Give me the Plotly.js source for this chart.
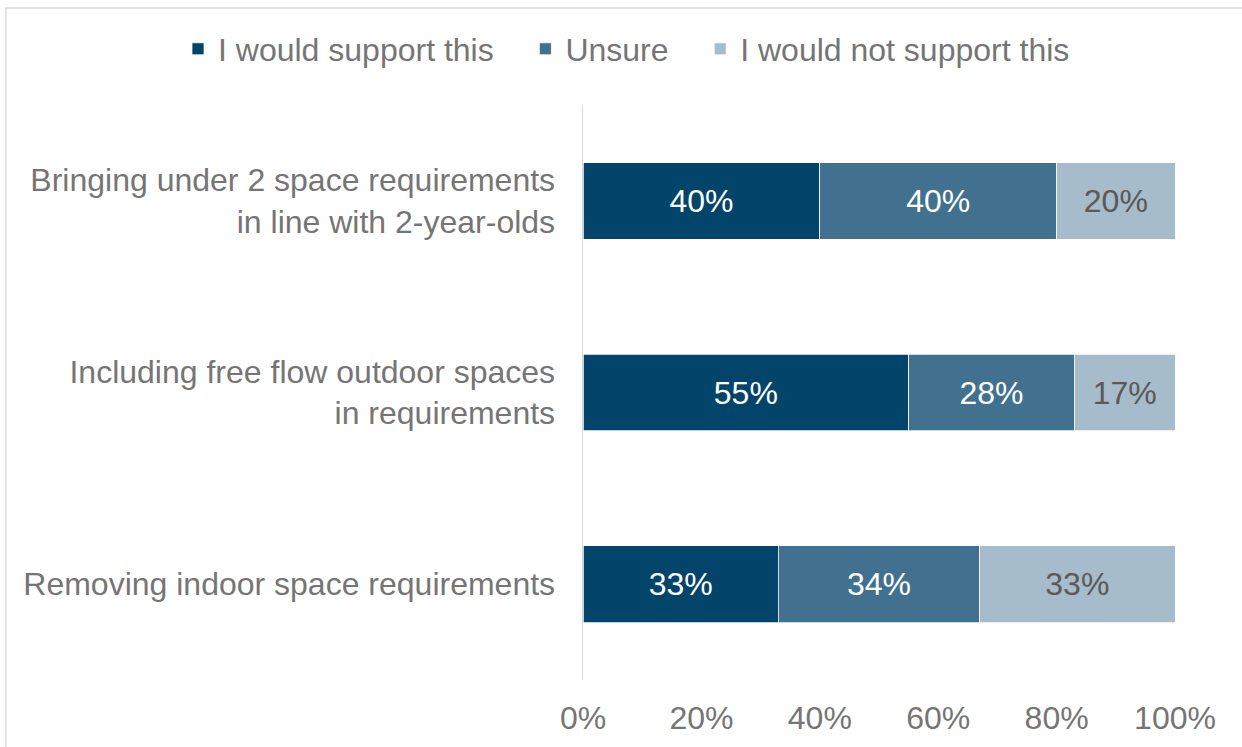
<!DOCTYPE html>
<html>
<head>
<meta charset="utf-8">
<script src="https://cdn.plot.ly/plotly-3.0.1.min.js"></script>
<style>
  html, body { margin: 0; padding: 0; background: #ffffff; }
  #chart { width: 1242px; height: 747px; }
</style>
</head>
<body>
<div id="chart"></div>
<script>
const categories = [
  "Bringing under 2 space requirements<br>in line with 2-year-olds",
  "Including free flow outdoor spaces<br>in requirements",
  "Removing indoor space requirements"
];
const seriesNames = ["I would support this", "Unsure", "I would not support this"];
const support = [40, 55, 33];
const unsure = [40, 28, 34];
const notSupport = [20, 17, 33];
const tickVals = [0, 20, 40, 60, 80, 100];
const tickLabels = ["0%", "20%", "40%", "60%", "80%", "100%"];

const colors = ["#03446A", "#41718F", "#A6BCCA"];
const labelColors = ["#ffffff", "#ffffff", "#595959"];
const seriesValues = [support, unsure, notSupport];
// extra trailing spacing after legend entries (to match the reference spacing)
const legendPad = [3, 3, 0];

const FONT = "Liberation Sans, Arial, sans-serif";
const FS = 32;

const traces = seriesValues.map((vals, i) => ({
  type: "bar",
  orientation: "h",
  name: seriesNames[i] + "\u00a0".repeat(legendPad[i]),
  y: categories,
  x: vals,
  marker: { color: colors[i], line: { color: "#ffffff", width: 0.75 } },
  text: vals.map(v => v + "%"),
  textposition: "inside",
  insidetextanchor: "middle",
  textangle: 0,
  textfont: { family: FONT, size: FS, color: labelColors[i] },
  hoverinfo: "skip"
}));

const layout = {
  width: 1242,
  height: 747,
  barmode: "stack",
  bargap: 0.6,
  paper_bgcolor: "#ffffff",
  plot_bgcolor: "#ffffff",
  margin: { l: 583, r: 67, t: 105, b: 67, autoexpand: false },
  font: { family: FONT, size: FS, color: "#757575" },
  showlegend: true,
  legend: {
    orientation: "h",
    xref: "paper",
    x: (178 - 583) / 592,
    xanchor: "left",
    yref: "paper",
    y: 1 + (105 - 49) / 575,
    yanchor: "middle",
    font: { family: FONT, size: FS, color: "#757575" },
    itemclick: false,
    itemdoubleclick: false,
    traceorder: "normal"
  },
  xaxis: {
    range: [0, 100],
    tickvals: tickVals,
    ticktext: tickLabels,
    showgrid: false,
    zeroline: false,
    showline: false,
    ticks: "",
    ticklabelstandoff: 16,
    tickfont: { family: FONT, size: FS, color: "#757575" },
    fixedrange: true
  },
  yaxis: {
    type: "category",
    autorange: "reversed",
    showgrid: false,
    zeroline: false,
    showline: true,
    linecolor: "#D9D9D9",
    linewidth: 1.5,
    ticks: "",
    ticklabelstandoff: 20,
    tickfont: { family: FONT, size: FS, color: "#757575" },
    fixedrange: true
  },
  shapes: [{
    type: "rect",
    xref: "paper", yref: "paper",
    x0: (6 - 583) / 592, x1: 1.2,
    y0: -0.2, y1: 1 + (105 - 8) / 575,
    line: { color: "#D9D9D9", width: 1.5 },
    fillcolor: "rgba(0,0,0,0)",
    layer: "below"
  }]
};

Plotly.newPlot("chart", traces, layout, { displayModeBar: false, staticPlot: true });
</script>
</body>
</html>
